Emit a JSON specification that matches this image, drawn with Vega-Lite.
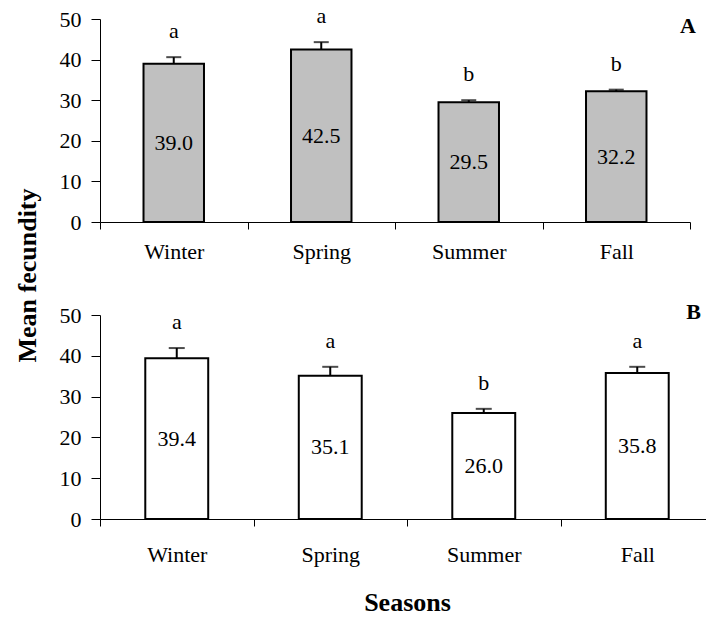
{
  "$schema": "https://vega.github.io/schema/vega-lite/v6.json",
  "padding": {"left": 14, "top": 5, "right": 0, "bottom": 0},
  "background": "white",
  "spacing": 93,
  "bounds": "flush",
  "config": {
    "font": "Liberation Serif",
    "view": {"stroke": null},
    "axis": {
      "labelFont": "Liberation Serif",
      "titleFont": "Liberation Serif",
      "labelFontSize": 22,
      "labelColor": "black",
      "titleColor": "black",
      "domainColor": "black",
      "tickColor": "black",
      "grid": false
    },
    "title": {"font": "Liberation Serif", "color": "black"}
  },
  "data": {
    "values": [
      {"panel": "A", "season": "Winter", "mean": 39.0, "upper": 40.6, "group": "a"},
      {"panel": "A", "season": "Spring", "mean": 42.5, "upper": 44.3, "group": "a"},
      {"panel": "A", "season": "Summer", "mean": 29.5, "upper": 30.0, "group": "b"},
      {"panel": "A", "season": "Fall", "mean": 32.2, "upper": 32.6, "group": "b"},
      {"panel": "B", "season": "Winter", "mean": 39.4, "upper": 41.9, "group": "a"},
      {"panel": "B", "season": "Spring", "mean": 35.1, "upper": 37.3, "group": "a"},
      {"panel": "B", "season": "Summer", "mean": 26.0, "upper": 27.0, "group": "b"},
      {"panel": "B", "season": "Fall", "mean": 35.8, "upper": 37.3, "group": "a"}
    ]
  },
  "vconcat": [
    {
      "width": 590,
      "height": 203,
      "transform": [{"filter": "datum.panel == 'A'"}],
      "title": {"text": "A", "anchor": "end", "frame": "group", "fontSize": 22, "fontWeight": "bold", "baseline": "middle", "offset": -43, "dx": 6},
      "layer": [
        {
          "encoding": {
            "x": {
              "field": "season", "type": "nominal",
              "scale": {"domain": ["Winter", "Spring", "Summer", "Fall"], "padding": 0},
              "axis": {"title": null, "labelAngle": 0, "tickBand": "extent", "tickSize": 7, "labelPadding": 12, "domainWidth": 1}
            }
          },
          "layer": [
            {
              "mark": {"type": "bar", "fill": "#c0c0c0", "stroke": "black", "strokeWidth": 2, "width": {"band": 0.41}},
              "encoding": {
                "y": {
                  "field": "mean", "type": "quantitative",
                  "scale": {"domain": [0, 50], "nice": false},
                  "axis": {
                    "values": [0, 10, 20, 30, 40, 50], "tickSize": 9, "labelPadding": 10,
                    "title": "Mean fecundity", "titleFontSize": 26, "titleFontWeight": "bold",
                    "titleX": -65, "titleY": 256, "titleAngle": -90, "titleAlign": "center", "titleBaseline": "alphabetic"
                  }
                }
              }
            },
            {
              "mark": {"type": "rule", "color": "black", "strokeWidth": 2},
              "encoding": {
                "y": {"field": "mean", "type": "quantitative"},
                "y2": {"field": "upper"}
              }
            },
            {
              "mark": {"type": "tick", "color": "black", "size": 15, "thickness": 2},
              "encoding": {
                "y": {"field": "upper", "type": "quantitative"}
              }
            },
            {
              "mark": {"type": "text", "fontSize": 22, "baseline": "alphabetic", "dy": -19, "color": "black"},
              "encoding": {
                "y": {"field": "upper", "type": "quantitative"},
                "text": {"field": "group"}
              }
            }
          ]
        },
        {
          "mark": {"type": "text", "fontSize": 22, "baseline": "middle", "color": "black"},
          "encoding": {
            "x": {"field": "season", "type": "nominal"},
            "y": {"field": "mean", "type": "quantitative", "scale": {"domain": [0, 100], "nice": false}, "axis": null},
            "text": {"field": "mean", "format": ".1f"}
          }
        }
      ],
      "resolve": {"scale": {"y": "independent"}}
    },
    {
      "width": 614,
      "height": 204,
      "transform": [{"filter": "datum.panel == 'B'"}],
      "title": {"text": "B", "anchor": "end", "frame": "group", "fontSize": 22, "fontWeight": "bold", "baseline": "middle", "offset": -30, "dx": -13},
      "layer": [
        {
          "encoding": {
            "x": {
              "field": "season", "type": "nominal",
              "scale": {"domain": ["Winter", "Spring", "Summer", "Fall"], "padding": 0},
              "axis": {"title": "Seasons", "titleFontSize": 26, "titleFontWeight": "bold", "titlePadding": 24, "labelAngle": 0, "tickBand": "extent", "tickSize": 7, "labelPadding": 18, "domainWidth": 1}
            }
          },
          "layer": [
            {
              "mark": {"type": "bar", "fill": "white", "stroke": "black", "strokeWidth": 2, "width": {"band": 0.41}},
              "encoding": {
                "y": {
                  "field": "mean", "type": "quantitative",
                  "scale": {"domain": [0, 50], "nice": false},
                  "axis": {"values": [0, 10, 20, 30, 40, 50], "tickSize": 9, "labelPadding": 10, "title": null}
                }
              }
            },
            {
              "mark": {"type": "rule", "color": "black", "strokeWidth": 2},
              "encoding": {
                "y": {"field": "mean", "type": "quantitative"},
                "y2": {"field": "upper"}
              }
            },
            {
              "mark": {"type": "tick", "color": "black", "size": 16, "thickness": 2},
              "encoding": {
                "y": {"field": "upper", "type": "quantitative"}
              }
            },
            {
              "mark": {"type": "text", "fontSize": 22, "baseline": "alphabetic", "dy": -19, "color": "black"},
              "encoding": {
                "y": {"field": "upper", "type": "quantitative"},
                "text": {"field": "group"}
              }
            }
          ]
        },
        {
          "mark": {"type": "text", "fontSize": 22, "baseline": "middle", "color": "black"},
          "encoding": {
            "x": {"field": "season", "type": "nominal"},
            "y": {"field": "mean", "type": "quantitative", "scale": {"domain": [0, 100], "nice": false}, "axis": null},
            "text": {"field": "mean", "format": ".1f"}
          }
        }
      ],
      "resolve": {"scale": {"y": "independent"}}
    }
  ]
}
